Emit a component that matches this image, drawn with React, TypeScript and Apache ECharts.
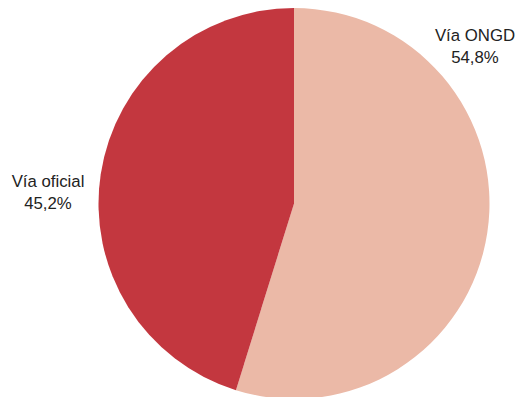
import React, { useEffect, useRef } from "react";
import * as echarts from "echarts";

const categories = ["Vía ONGD", "Vía oficial"];
const values = [54.8, 45.2];
const colors = ["#EBB9A7", "#C3373F"];

export default function App() {
  const ref = useRef<HTMLDivElement>(null);
  useEffect(() => {
    document.body.style.margin = "0";
    const chart = echarts.init(ref.current!, null, { renderer: "svg" });
    const labelPos = [
      { x: 475, y: 46 },
      { x: 48, y: 192 },
    ];
    chart.setOption({
      animation: false,
      backgroundColor: "#ffffff",
      series: [
        {
          type: "pie",
          center: [294, 203.5],
          radius: 195.5,
          startAngle: 90,
          clockwise: true,
          data: categories.map((c, i) => ({
            name: c,
            value: values[i],
            itemStyle: { color: colors[i] },
          })),
          label: {
            show: true,
            position: "inside",
            formatter: (p: any) =>
              p.name + "\n" + p.value.toFixed(1).replace(".", ",") + "%",
            fontFamily: "'Liberation Sans', Arial, sans-serif",
            fontSize: 16.8,
            lineHeight: 22,
            color: "#222222",
            align: "center",
            overflow: "none",
          },
          labelLine: { show: false },
          labelLayout: (params: any) => ({
            x: labelPos[params.dataIndex].x,
            y: labelPos[params.dataIndex].y,
            align: "center",
            verticalAlign: "middle",
            hideOverlap: false,
          }),
          emphasis: { disabled: true },
        },
      ],
    });
    return () => chart.dispose();
  }, []);
  return <div ref={ref} style={{ width: 518, height: 397 }} />;
}
